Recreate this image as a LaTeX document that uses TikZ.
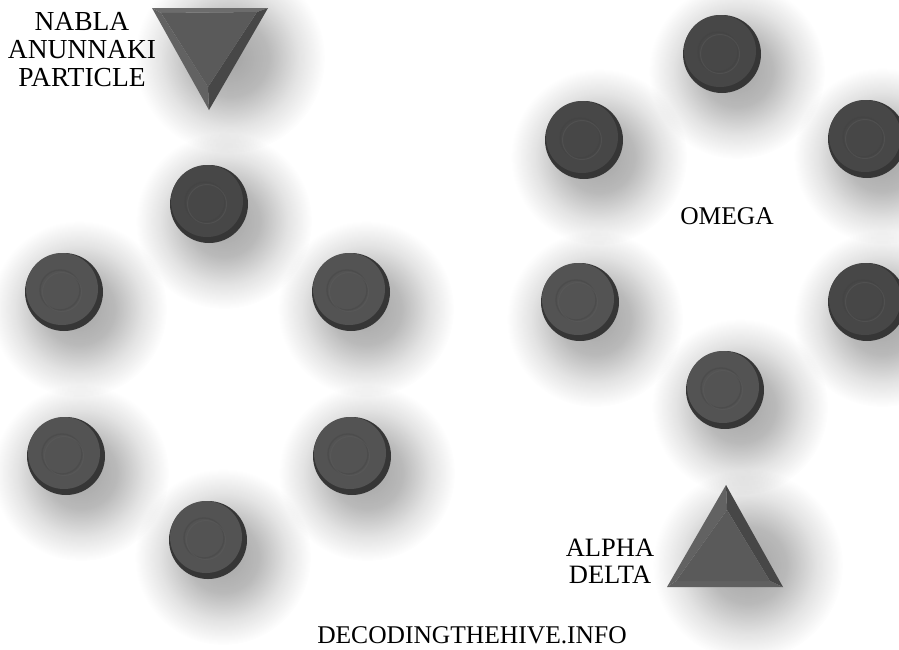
\documentclass[tikz,border=0pt]{standalone}
\usepackage{fontspec}
\setmainfont{Liberation Serif}
\usetikzlibrary{fadings}
\pgfdeclareradialshading{softshade}{\pgfpointorigin}{%
  color(0bp)=(pgftransparent!35);
  color(10bp)=(pgftransparent!50);
  color(18bp)=(pgftransparent!80);
  color(25bp)=(pgftransparent!100);
  color(50bp)=(pgftransparent!100)}
\pgfdeclarefading{softfade}{\pgfuseshading{softshade}}
\definecolor{rimc}{HTML}{363636}
\definecolor{faceA}{HTML}{474747}
\definecolor{faceB}{HTML}{535353}
\definecolor{ringc}{HTML}{3E3E3E}
\definecolor{ringl}{HTML}{5E5E5E}
\definecolor{tritop}{HTML}{6C6C6C}
\definecolor{triright}{HTML}{474747}
\definecolor{trileft}{HTML}{626262}
\definecolor{trimain}{HTML}{5A5A5A}
\definecolor{tribot}{HTML}{606060}
\tikzset{
  lbl/.style={font=\fontsize{25.5}{28}\selectfont, text=black, inner sep=0pt, align=center},
  softshadow/.style={fill=black, opacity=0.55, path fading=softfade},
}
\newcommand\mydisc[3]{%
  \fill[softshadow] (#1+15,#2+17) circle (88);
}
\newcommand\mydiscbody[3]{%
  \fill[rimc] (#1,#2) circle (39);
  \fill[#3] (#1-2,#2-3) circle (36);
  \draw[ringc, line width=1.4pt, opacity=0.3] (#1-4,#2-2) circle (20);
  \draw[ringl, line width=1pt, opacity=0.4] (#1-2,#2) circle (19.5);
}
\begin{document}
\begin{tikzpicture}[x=1pt,y=-1pt]
\useasboundingbox (0,0) rectangle (899,649);
\fill[white] (0,0) rectangle (899,649);
\clip (0,0) rectangle (899,649);
% shadows
\foreach \x/\y in {209/204,64/292,351/292,66/456,352/456,208/540,722/54,584/140,867/139,580/302,867/302,725/390}
  {\mydisc{\x}{\y}{}}
\fill[softshadow] (230,58) circle (95);
\fill[softshadow] (748,565) circle (95);
% discs
\foreach \x/\y/\c in {209/204/faceA,64/292/faceB,351/292/faceB,66/456/faceB,352/456/faceB,208/540/faceB,722/54/faceA,584/140/faceA,867/139/faceA,580/302/faceB,867/302/faceA,725/390/faceB}
  {\mydiscbody{\x}{\y}{\c}}
% nabla triangle
\coordinate (nA) at (152,8);
\coordinate (nB) at (268,8);
\coordinate (nC) at (209,110);
\coordinate (na) at (161,13);
\coordinate (nb) at (257,12);
\coordinate (nc) at (208,87);
\fill[tritop] (nA) -- (nB) -- (nb) -- (na) -- cycle;
\fill[triright] (nB) -- (nC) -- (nc) -- (nb) -- cycle;
\fill[trileft] (nA) -- (na) -- (nc) -- (nC) -- cycle;
\fill[trimain] (na) -- (nb) -- (nc) -- cycle;
% alpha triangle
\coordinate (aP) at (726,485);
\coordinate (aL) at (667,587);
\coordinate (aR) at (783,587);
\coordinate (ap) at (727,510);
\coordinate (al) at (676,581);
\coordinate (ar) at (770,581);
\fill[trileft] (aP) -- (ap) -- (al) -- (aL) -- cycle;
\fill[triright] (aP) -- (aR) -- (ar) -- (ap) -- cycle;
\fill[tribot] (aL) -- (al) -- (ar) -- (aR) -- cycle;
\fill[trimain] (ap) -- (al) -- (ar) -- cycle;
% labels
\node[lbl, anchor=base, font=\fontsize{27.5}{28}\selectfont] (nabla) at (82,86) {NABLA\\ANUNNAKI\\PARTICLE};
\node[lbl, anchor=base] (omega) at (727,224) {OMEGA};
\node[lbl, anchor=base, font=\fontsize{26.5}{27}\selectfont] (alpha) at (610,583) {ALPHA\\DELTA};
\node[lbl, anchor=base] (site) at (472,643) {DECODINGTHEHIVE.INFO};
\end{tikzpicture}
\end{document}
